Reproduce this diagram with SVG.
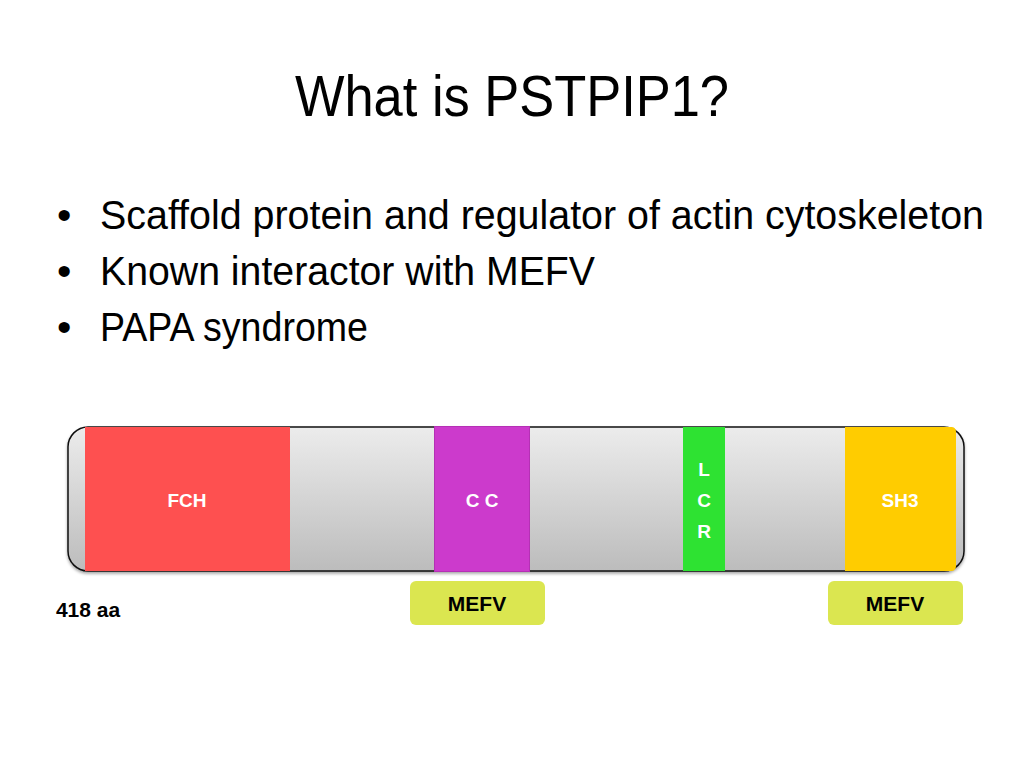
<svg xmlns="http://www.w3.org/2000/svg" width="1024" height="768" viewBox="0 0 1024 768">
<defs>
<linearGradient id="barGrad" x1="0" y1="0" x2="0" y2="1">
<stop offset="0" stop-color="#ececec"/>
<stop offset="1" stop-color="#bcbcbc"/>
</linearGradient>
<filter id="shadow" x="-5%" y="-10%" width="110%" height="130%">
<feDropShadow dx="0" dy="2" stdDeviation="1.5" flood-color="#000" flood-opacity="0.35"/>
</filter>
</defs>
<style>
.title{font-family:"Liberation Sans",Arial,sans-serif;font-size:57px;fill:#000}
.bullet{font-family:"Liberation Sans",Arial,sans-serif;font-size:41px;fill:#000}
.lbl{font-family:"Liberation Sans",Arial,sans-serif;font-size:19px;font-weight:bold;fill:#fff;text-anchor:middle}
.dlbl{font-family:"Liberation Sans",Arial,sans-serif;font-size:21px;font-weight:bold;fill:#000;text-anchor:middle}
.mefv{fill:#dbe650}
</style>
<rect width="1024" height="768" fill="#fff"/>
<text class="title" x="295" y="116" textLength="434" lengthAdjust="spacingAndGlyphs">What is PSTPIP1?</text>
<g id="bullets">
<text class="bullet" x="57" y="229">•</text>
<text class="bullet" x="100" y="229" textLength="884" lengthAdjust="spacingAndGlyphs">Scaffold protein and regulator of actin cytoskeleton</text>
<text class="bullet" x="57" y="285">•</text>
<text class="bullet" x="100" y="285" textLength="495" lengthAdjust="spacingAndGlyphs">Known interactor with MEFV</text>
<text class="bullet" x="57" y="341">•</text>
<text class="bullet" x="100" y="341" textLength="268" lengthAdjust="spacingAndGlyphs">PAPA syndrome</text>
</g>
<g id="protein-bar">
<rect x="68" y="427" width="896" height="144" rx="20" ry="20" fill="url(#barGrad)" stroke="#111" stroke-width="1.5" filter="url(#shadow)"/>
</g>
<g id="FCH">
<rect x="85" y="427" width="205" height="144" fill="#fe5050"/>
<text class="lbl" x="187" y="507">FCH</text>
</g>
<g id="CC">
<rect x="434.5" y="426.5" width="95" height="145" fill="#cc3acc" stroke="#b530b5" stroke-width="1"/>
<text class="lbl" x="482" y="507">C C</text>
</g>
<g id="LCR">
<rect x="683" y="427" width="42" height="144" fill="#2ee232"/>
<text class="lbl" x="704" y="476">L</text>
<text class="lbl" x="704" y="507">C</text>
<text class="lbl" x="704" y="538">R</text>
</g>
<g id="SH3">
<path d="M845,427 H951 Q956,427 956,432 V566 Q956,571 951,571 H845 Z" fill="#ffcc00"/>
<text class="lbl" x="900" y="507">SH3</text>
</g>
<g id="MEFV1">
<rect class="mefv" x="410" y="581" width="135" height="44" rx="6" ry="6"/>
<text class="dlbl" x="477" y="611">MEFV</text>
</g>
<g id="MEFV2">
<rect class="mefv" x="828" y="581" width="135" height="44" rx="6" ry="6"/>
<text class="dlbl" x="895" y="611">MEFV</text>
</g>
<g id="length">
<text class="dlbl" x="88" y="617">418 aa</text>
</g>
<g id="connectors"/>
</svg>
